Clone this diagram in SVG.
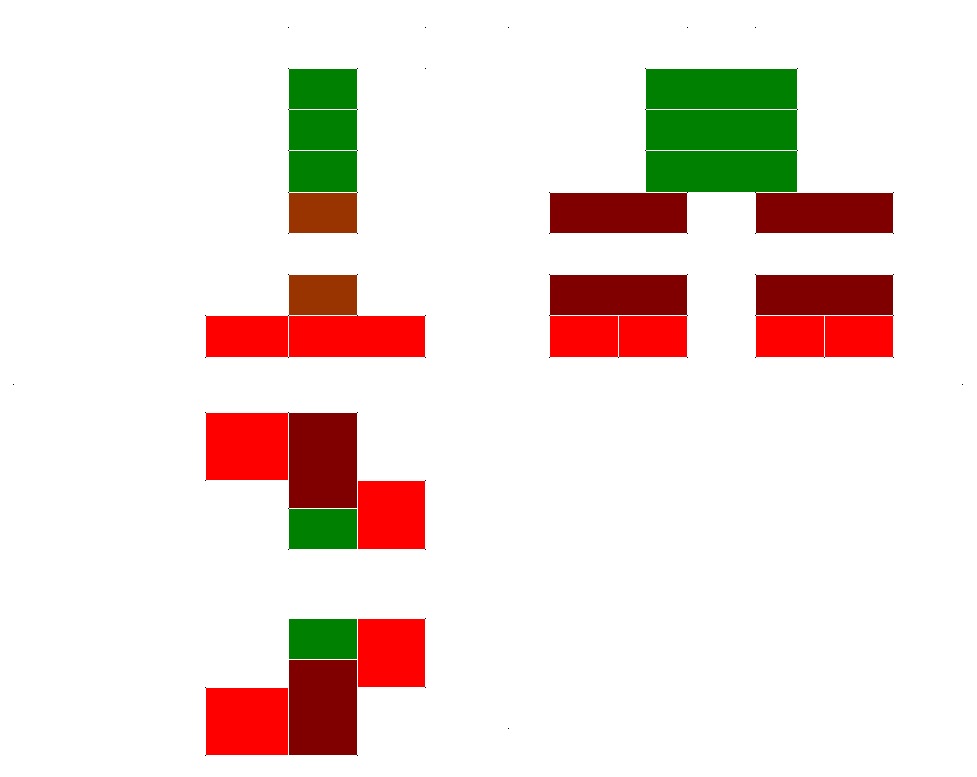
<svg xmlns="http://www.w3.org/2000/svg" width="977" height="777" viewBox="0 0 977 777" shape-rendering="crispEdges">
<style>
.g{fill:#008000}
.b{fill:#993300}
.d{fill:#800000}
.r{fill:#ff0000}
.dot{fill:#000}
</style>
<rect width="977" height="777" fill="#fff"/>
<g id="markers">
<rect class="dot" x="288" y="27" width="1" height="1"/>
<rect class="dot" x="425" y="27" width="1" height="1"/>
<rect class="dot" x="425" y="68" width="1" height="1"/>
<rect class="dot" x="508" y="27" width="1" height="1"/>
<rect class="dot" x="687" y="27" width="1" height="1"/>
<rect class="dot" x="755" y="27" width="1" height="1"/>
<rect class="dot" x="13" y="384" width="1" height="1"/>
<rect class="dot" x="962" y="384" width="1" height="1"/>
<rect class="dot" x="508" y="728" width="1" height="1"/>
</g>
<g id="a1"><rect class="g" x="289" y="69" width="68" height="40"/></g>
<g id="a2"><rect class="g" x="289" y="110" width="68" height="40"/></g>
<g id="a3"><rect class="g" x="289" y="151" width="68" height="41"/></g>
<g id="a4"><rect class="b" x="289" y="193" width="68" height="40"/></g>
<g id="a5"><rect class="b" x="289" y="275" width="68" height="40"/></g>
<g id="a6"><rect class="r" x="206" y="316" width="82" height="41"/></g>
<g id="a7"><rect class="r" x="289" y="316" width="136" height="41"/></g>
<g id="b1"><rect class="g" x="646" y="69" width="151" height="40"/></g>
<g id="b2"><rect class="g" x="646" y="110" width="151" height="40"/></g>
<g id="b3"><rect class="g" x="646" y="151" width="151" height="41"/></g>
<g id="b4"><rect class="d" x="550" y="193" width="137" height="40"/></g>
<g id="b5"><rect class="d" x="756" y="193" width="137" height="40"/></g>
<g id="b6"><rect class="d" x="550" y="275" width="137" height="40"/></g>
<g id="b7"><rect class="d" x="756" y="275" width="137" height="40"/></g>
<g id="b8"><rect class="r" x="550" y="316" width="68" height="41"/></g>
<g id="b9"><rect class="r" x="619" y="316" width="68" height="41"/></g>
<g id="b10"><rect class="r" x="756" y="316" width="68" height="41"/></g>
<g id="b11"><rect class="r" x="825" y="316" width="68" height="41"/></g>
<g id="c1"><rect class="r" x="206" y="413" width="82" height="67"/></g>
<g id="c2"><rect class="d" x="289" y="413" width="68" height="95"/></g>
<g id="c3"><rect class="g" x="289" y="509" width="68" height="40"/></g>
<g id="c4"><rect class="r" x="358" y="481" width="67" height="68"/></g>
<g id="d1"><rect class="g" x="289" y="619" width="68" height="40"/></g>
<g id="d2"><rect class="r" x="358" y="619" width="67" height="68"/></g>
<g id="d3"><rect class="d" x="289" y="660" width="68" height="95"/></g>
<g id="d4"><rect class="r" x="206" y="688" width="82" height="67"/></g>
<g id="corners">
<rect class="dot" x="288" y="68" width="1" height="1"/><rect class="dot" x="357" y="68" width="1" height="1"/>
<rect class="dot" x="288" y="109" width="1" height="1"/><rect class="dot" x="357" y="109" width="1" height="1"/>
<rect class="dot" x="288" y="150" width="1" height="1"/><rect class="dot" x="357" y="150" width="1" height="1"/>
<rect class="dot" x="288" y="192" width="1" height="1"/><rect class="dot" x="357" y="192" width="1" height="1"/>
<rect class="dot" x="288" y="233" width="1" height="1"/><rect class="dot" x="357" y="233" width="1" height="1"/>
<rect class="dot" x="288" y="274" width="1" height="1"/><rect class="dot" x="357" y="274" width="1" height="1"/>
<rect class="dot" x="205" y="315" width="1" height="1"/><rect class="dot" x="288" y="315" width="1" height="1"/><rect class="dot" x="357" y="315" width="1" height="1"/><rect class="dot" x="425" y="315" width="1" height="1"/>
<rect class="dot" x="205" y="357" width="1" height="1"/><rect class="dot" x="288" y="357" width="1" height="1"/><rect class="dot" x="425" y="357" width="1" height="1"/>
<rect class="dot" x="645" y="68" width="1" height="1"/><rect class="dot" x="797" y="68" width="1" height="1"/>
<rect class="dot" x="645" y="109" width="1" height="1"/><rect class="dot" x="797" y="109" width="1" height="1"/>
<rect class="dot" x="645" y="150" width="1" height="1"/><rect class="dot" x="797" y="150" width="1" height="1"/>
<rect class="dot" x="549" y="192" width="1" height="1"/><rect class="dot" x="687" y="192" width="1" height="1"/><rect class="dot" x="755" y="192" width="1" height="1"/><rect class="dot" x="893" y="192" width="1" height="1"/>
<rect class="dot" x="549" y="233" width="1" height="1"/><rect class="dot" x="687" y="233" width="1" height="1"/><rect class="dot" x="755" y="233" width="1" height="1"/><rect class="dot" x="893" y="233" width="1" height="1"/>
<rect class="dot" x="549" y="274" width="1" height="1"/><rect class="dot" x="687" y="274" width="1" height="1"/><rect class="dot" x="755" y="274" width="1" height="1"/><rect class="dot" x="893" y="274" width="1" height="1"/>
<rect class="dot" x="549" y="315" width="1" height="1"/><rect class="dot" x="687" y="315" width="1" height="1"/><rect class="dot" x="755" y="315" width="1" height="1"/><rect class="dot" x="893" y="315" width="1" height="1"/>
<rect class="dot" x="549" y="357" width="1" height="1"/><rect class="dot" x="618" y="357" width="1" height="1"/><rect class="dot" x="687" y="357" width="1" height="1"/><rect class="dot" x="755" y="357" width="1" height="1"/><rect class="dot" x="824" y="357" width="1" height="1"/><rect class="dot" x="893" y="357" width="1" height="1"/>
<rect class="dot" x="205" y="412" width="1" height="1"/><rect class="dot" x="288" y="412" width="1" height="1"/><rect class="dot" x="357" y="412" width="1" height="1"/>
<rect class="dot" x="205" y="480" width="1" height="1"/><rect class="dot" x="425" y="480" width="1" height="1"/>
<rect class="dot" x="288" y="508" width="1" height="1"/>
<rect class="dot" x="288" y="549" width="1" height="1"/><rect class="dot" x="425" y="549" width="1" height="1"/>
<rect class="dot" x="425" y="618" width="1" height="1"/>
<rect class="dot" x="425" y="687" width="1" height="1"/><rect class="dot" x="205" y="687" width="1" height="1"/>
<rect class="dot" x="205" y="755" width="1" height="1"/><rect class="dot" x="357" y="755" width="1" height="1"/>
</g>
</svg>
